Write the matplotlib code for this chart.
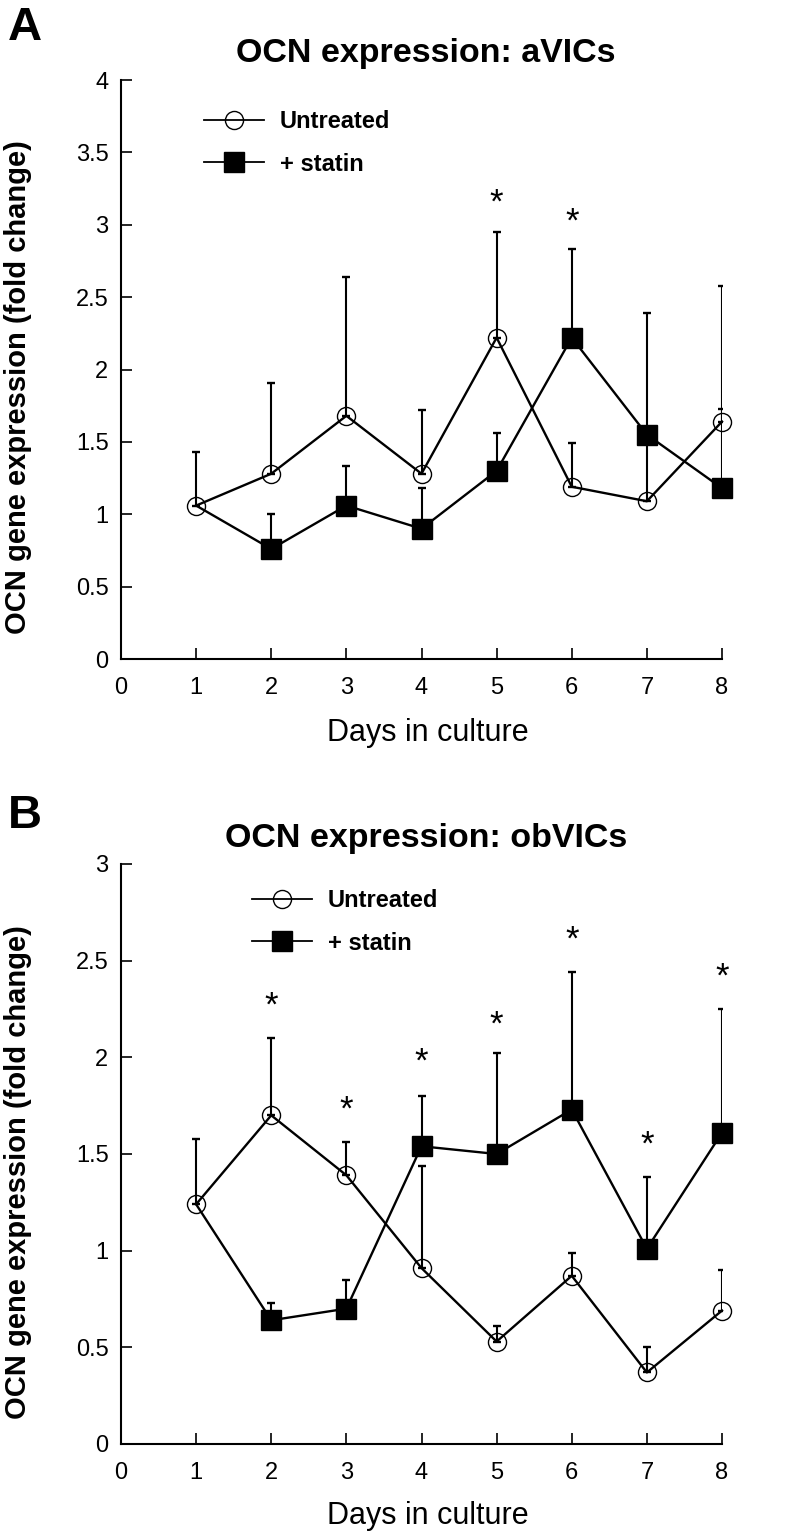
import numpy as np
import matplotlib
matplotlib.use("Agg")
import matplotlib.pyplot as plt
from matplotlib.lines import Line2D

plt.rcParams['font.family'] = ['Liberation Sans', 'DejaVu Sans']

days = [1, 2, 3, 4, 5, 6, 7, 8]

# Panel A: aVICs
a_untreated = [1.06, 1.28, 1.68, 1.28, 2.22, 1.19, 1.09, 1.64]
a_untreated_err = [0.37, 0.63, 0.96, 0.44, 0.73, 0.30, 0.46, 0.09]
a_statin = [1.06, 0.76, 1.06, 0.90, 1.30, 2.22, 1.55, 1.18]
a_statin_err = [np.nan, 0.24, 0.27, 0.28, 0.26, 0.61, 0.84, 1.40]
a_star_days = [5, 6]
a_star_y = [3.18, 3.05]

# Panel B: obVICs
b_untreated = [1.24, 1.70, 1.39, 0.91, 0.53, 0.87, 0.37, 0.69]
b_untreated_err = [0.34, 0.40, 0.17, 0.53, 0.08, 0.12, 0.13, 0.21]
b_statin = [1.24, 0.64, 0.70, 1.54, 1.50, 1.73, 1.01, 1.61]
b_statin_err = [np.nan, 0.09, 0.15, 0.26, 0.52, 0.71, 0.37, 0.64]
b_star_days = [2, 3, 4, 5, 6, 7, 8]
b_star_y = [2.29, 1.75, 2.00, 2.19, 2.63, 1.57, 2.44]

x_ticks = [0, 1, 2, 3, 4, 5, 6, 7, 8]
a_yticks = [0, 0.5, 1, 1.5, 2, 2.5, 3, 3.5, 4]
b_yticks = [0, 0.5, 1, 1.5, 2, 2.5, 3]
ylabel = "OCN gene expression (fold change)"
xlabel = "Days in culture"

W, H = 791, 1537
fig = plt.figure(figsize=(W / 100, H / 100), dpi=100)

def px_axes(left, right, top, bottom):
    return fig.add_axes([left / W, (H - bottom) / H, (right - left) / W, (bottom - top) / H])

def tick_fmt(v):
    return ("%g" % v)

STAR_FS = 25

def draw_panel(ax, unt, unt_err, sta, sta_err, star_days, star_y, yticks, title, title_y,
               letter, letter_base, legend_anchor, ycenter, xlab_y):
    d = np.array(days, dtype=float)
    unt = np.array(unt); unt_err = np.array(unt_err)
    sta = np.array(sta); sta_err = np.array(sta_err)
    ymax = yticks[-1]
    ax.set_xlim(0, 8)
    ax.set_ylim(0, ymax)
    # error bars (upper only)
    ax.errorbar(d, unt, yerr=[np.zeros_like(unt_err), unt_err], fmt='none',
                ecolor='black', elinewidth=1.5, capsize=3.2, capthick=1.7, zorder=2)
    m = ~np.isnan(sta_err)
    ax.errorbar(d[m], sta[m], yerr=[np.zeros(m.sum()), sta_err[m]], fmt='none',
                ecolor='black', elinewidth=1.5, capsize=3.2, capthick=1.7, zorder=2)
    # lines
    ax.plot(d, unt, color='black', lw=1.7, marker='o', ms=13, mfc='none',
            mec='black', mew=1.0, clip_on=False, zorder=3)
    ax.plot(d, sta, color='black', lw=1.7, marker='s', ms=14, mfc='black',
            mec='black', mew=1.0, markevery=list(range(1, len(days))), clip_on=False, zorder=4)
    for sx, sy in zip(star_days, star_y):
        ax.annotate("*", (sx, sy), xytext=(0, -0.40 * STAR_FS), textcoords='offset points',
                    ha='center', va='baseline', fontsize=STAR_FS, zorder=5)

    for s in ['top', 'right']:
        ax.spines[s].set_visible(False)
    for s in ['left', 'bottom']:
        ax.spines[s].set_linewidth(1.5)
    ax.set_xticks(x_ticks)
    ax.set_xticklabels([str(t) for t in x_ticks])
    ax.set_yticks(yticks)
    ax.set_yticklabels([tick_fmt(t) for t in yticks])
    ax.tick_params(direction='in', length=8, width=1.2, labelsize=17)
    ax.tick_params(axis='x', pad=13)
    ax.tick_params(axis='y', pad=9)
    ax.set_xlabel(xlabel, fontsize=22)
    ax.xaxis.set_label_coords(0.511, xlab_y)
    ax.set_ylabel(ylabel, fontsize=21, fontweight='bold')
    ax.yaxis.set_label_coords(-0.148, ycenter)
    ax.text(0.507, title_y, title, transform=ax.transAxes, ha='center', va='baseline',
            fontsize=24.5, fontweight='bold')
    fig.text(8 / W, 1 - letter_base / H, letter, ha='left', va='baseline', fontsize=34, fontweight='bold')

    handles = [
        Line2D([], [], color='black', lw=1.3, marker='o', ms=13, mfc='none', mec='black', mew=1.0),
        Line2D([], [], color='black', lw=1.3, marker='s', ms=14, mfc='black', mec='black'),
    ]
    ax.legend(handles, ["Untreated", "+ statin"], loc='upper left',
              bbox_to_anchor=legend_anchor, frameon=False, numpoints=1,
              handlelength=2.55, handletextpad=0.65, labelspacing=0.83,
              prop={'size': 17, 'weight': 'bold'}, borderaxespad=0, borderpad=0)

axA = px_axes(121, 722, 80, 659)
draw_panel(axA, a_untreated, a_untreated_err, a_statin, a_statin_err,
           a_star_days, a_star_y, a_yticks, "OCN expression: aVICs", (659 - 62) / 579,
           "A", 40, ((204 - 121) / 601, (659 - 110) / 579), 0.47, (659 - 718) / 579)

axB = px_axes(121, 722, 864, 1444)
draw_panel(axB, b_untreated, b_untreated_err, b_statin, b_statin_err,
           b_star_days, b_star_y, b_yticks, "OCN expression: obVICs", (1444 - 847) / 580,
           "B", 828, ((252 - 121) / 601, (1444 - 889) / 580), 0.469, (1444 - 1501) / 580)

fig.savefig("out.png", dpi=100)
